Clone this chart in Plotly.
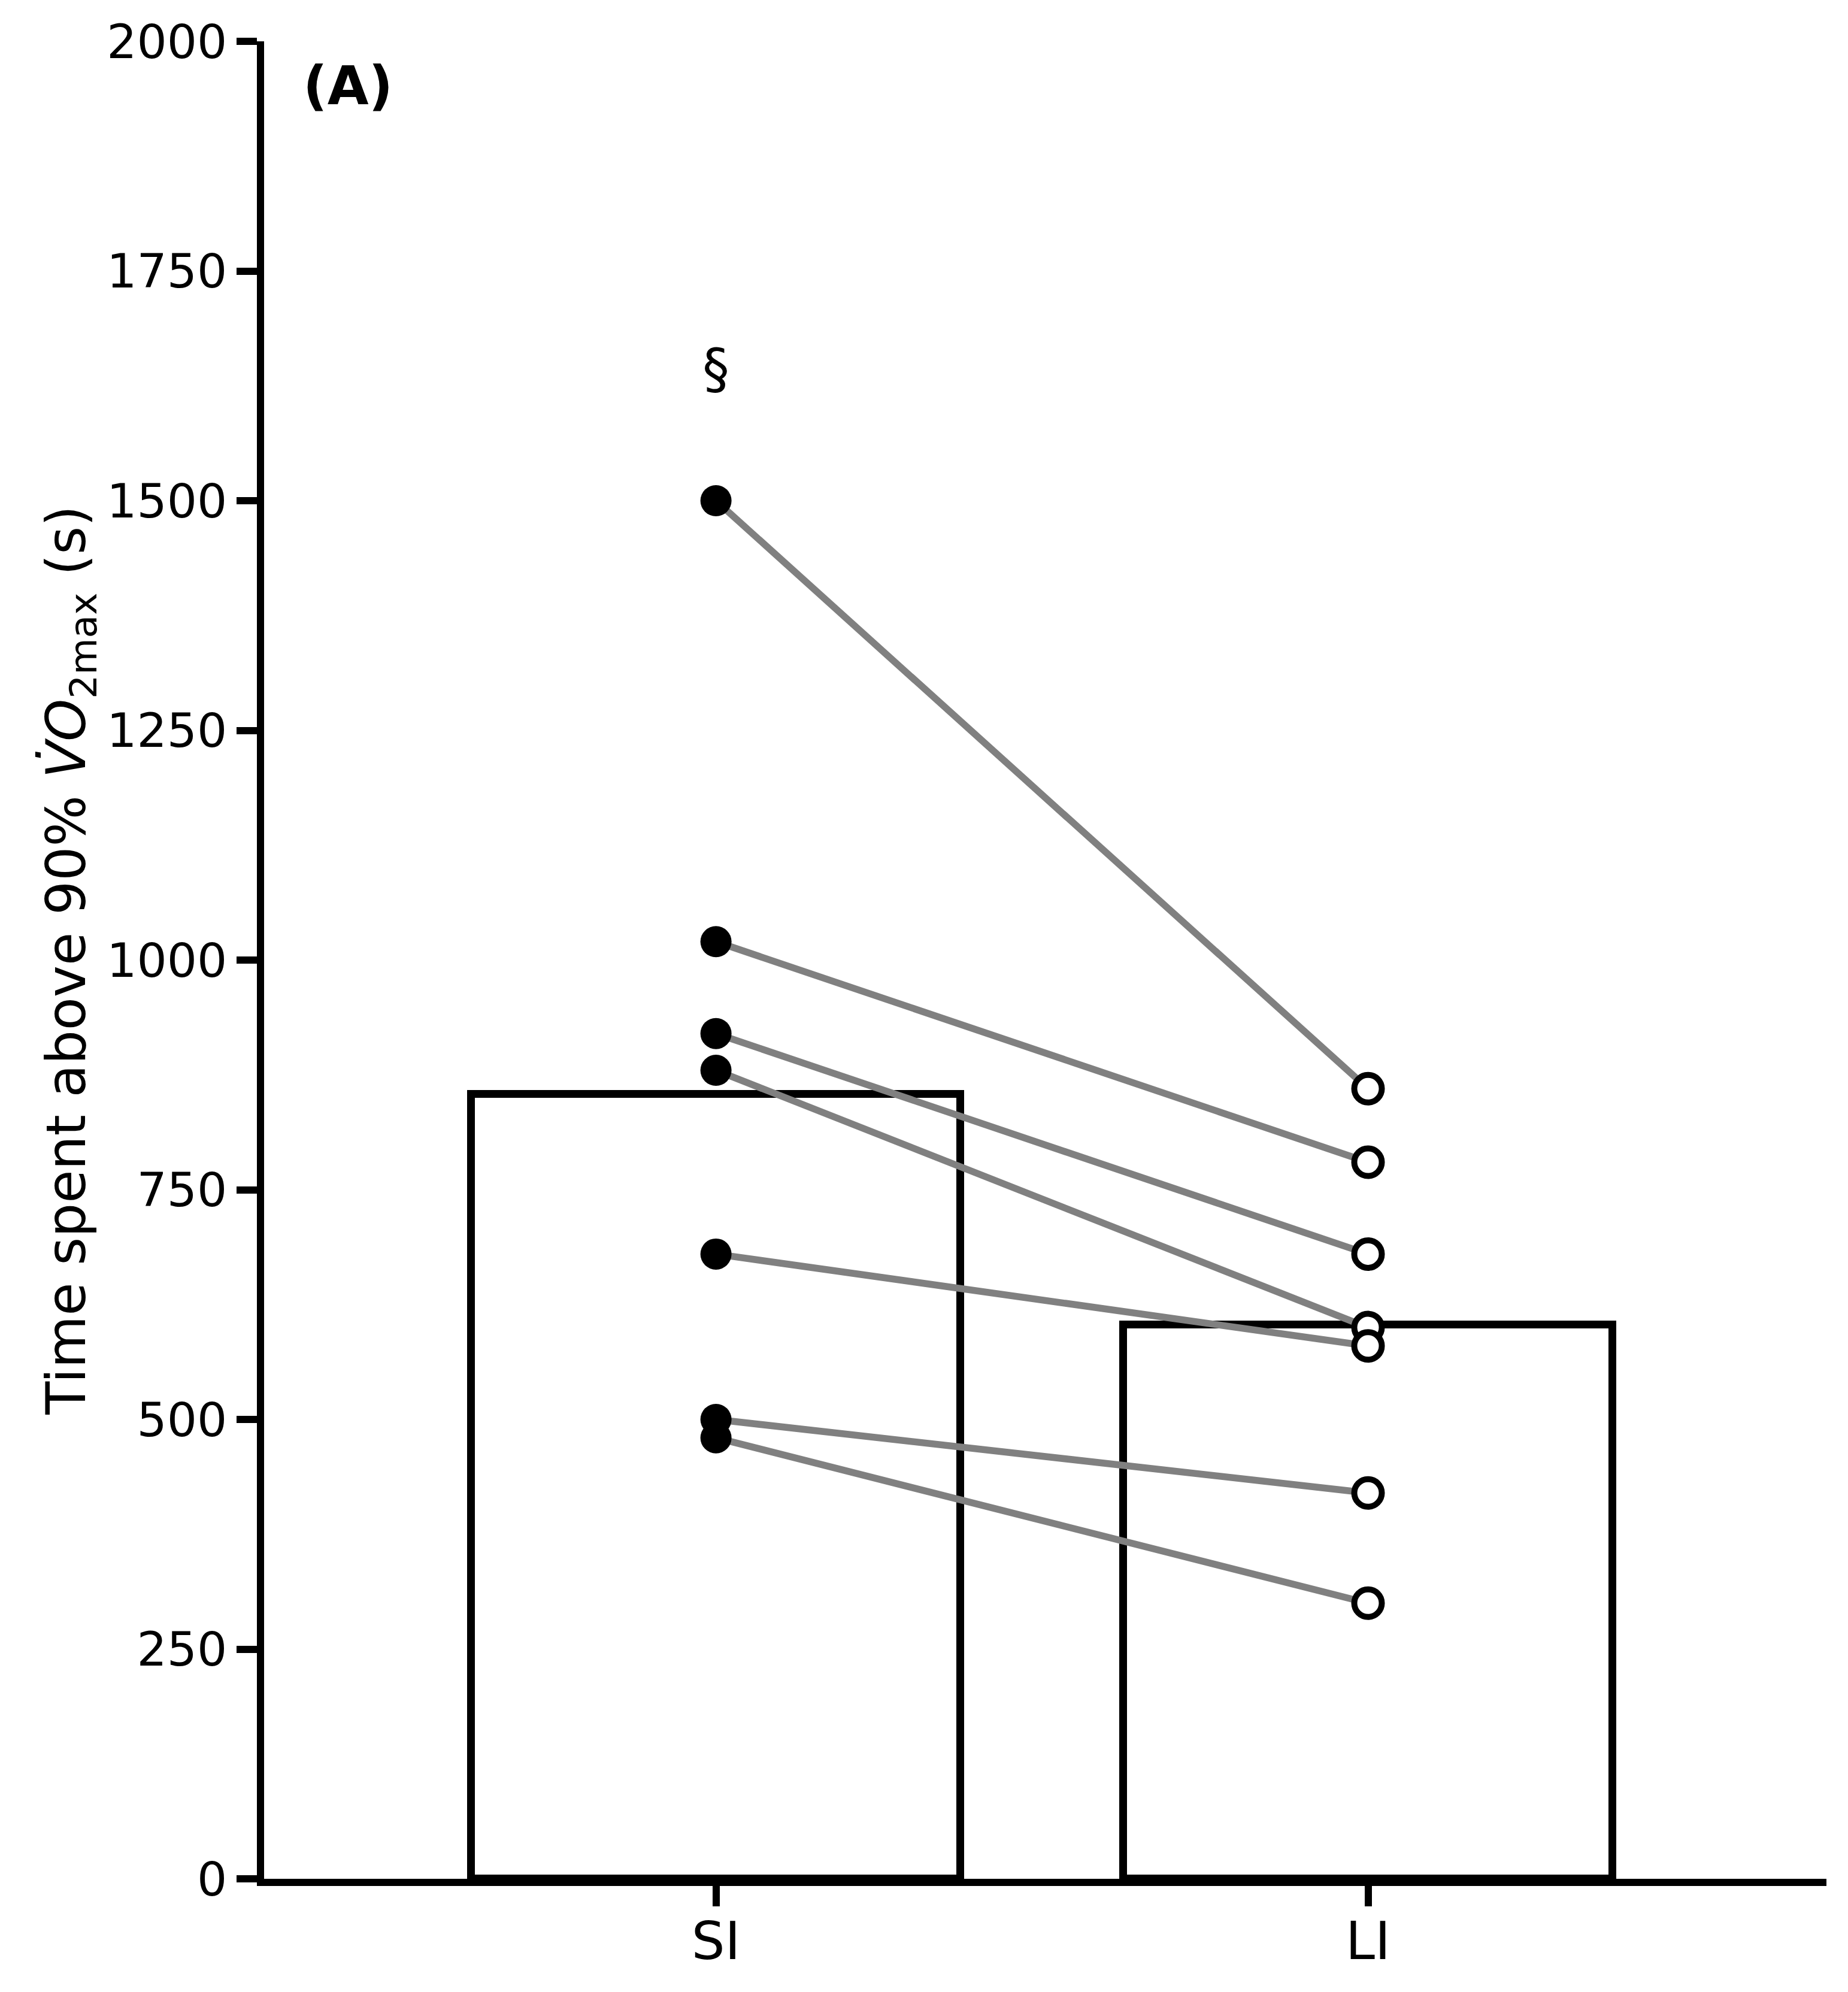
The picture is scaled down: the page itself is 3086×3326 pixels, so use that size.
import plotly.graph_objects as go

categories = ["SI", "LI"]
bar_means = [854, 603]
si_values = [1500, 1020, 920, 880, 680, 500, 480]
li_values = [860, 780, 680, 600, 580, 420, 300]
y_ticks = [0, 250, 500, 750, 1000, 1250, 1500, 1750, 2000]
sig_mark_y = 1644

xpos = [0, 1]
FONT = "DejaVu Sans"

fig = go.Figure()

fig.add_trace(go.Bar(
    x=xpos, y=bar_means, width=0.75,
    marker=dict(color="white", line=dict(color="black", width=13)),
    showlegend=False,
))

for a, b in zip(si_values, li_values):
    fig.add_trace(go.Scatter(
        x=xpos, y=[a, b], mode="lines",
        line=dict(color="#808080", width=11.5),
        showlegend=False,
    ))

fig.add_trace(go.Scatter(
    x=[xpos[0]] * len(si_values), y=si_values, mode="markers",
    marker=dict(size=52, color="black", line=dict(width=0)),
    showlegend=False,
))
fig.add_trace(go.Scatter(
    x=[xpos[1]] * len(li_values), y=li_values, mode="markers",
    marker=dict(size=46, color="white", line=dict(width=10, color="black")),
    showlegend=False,
))

fig.add_annotation(
    x=xpos[0], y=sig_mark_y, xref="x", yref="y", text="§", showarrow=False,
    font=dict(family=FONT, size=90, color="black"), xanchor="center", yanchor="middle",
)
fig.add_annotation(
    x=0.0535, y=0.976, xref="paper", yref="paper", text="<b>(A)</b>", showarrow=False,
    font=dict(family=FONT, size=89, color="black"), xanchor="center", yanchor="middle",
)
fig.add_annotation(
    x=-0.1243, y=0.5, xref="paper", yref="paper",
    text="Time spent above 90% <i>V\u0307O</i><sub>2max</sub> (s)",
    showarrow=False, textangle=-90,
    font=dict(family=FONT, size=90, color="black"), xanchor="center", yanchor="middle",
)

fig.update_layout(
    width=3086, height=3326,
    margin=dict(l=441, r=36, t=69, b=189),
    paper_bgcolor="white", plot_bgcolor="white",
    bargap=0,
    xaxis=dict(
        range=[-0.693, 1.703], tickvals=xpos, ticktext=categories,
        showline=True, linecolor="black", linewidth=12,
        ticks="outside", ticklen=34, tickwidth=12, tickcolor="black",
        tickfont=dict(family=FONT, size=88, color="black"),
        ticklabelstandoff=-18,
        showgrid=False, zeroline=False,
    ),
    yaxis=dict(
        range=[0, 2000], tickvals=y_ticks,
        showline=True, linecolor="black", linewidth=12,
        ticks="outside", ticklen=34, tickwidth=12, tickcolor="black",
        tickfont=dict(family=FONT, size=79, color="black"),
        showgrid=False, zeroline=False,
    ),
)

fig.write_html("out.html")
